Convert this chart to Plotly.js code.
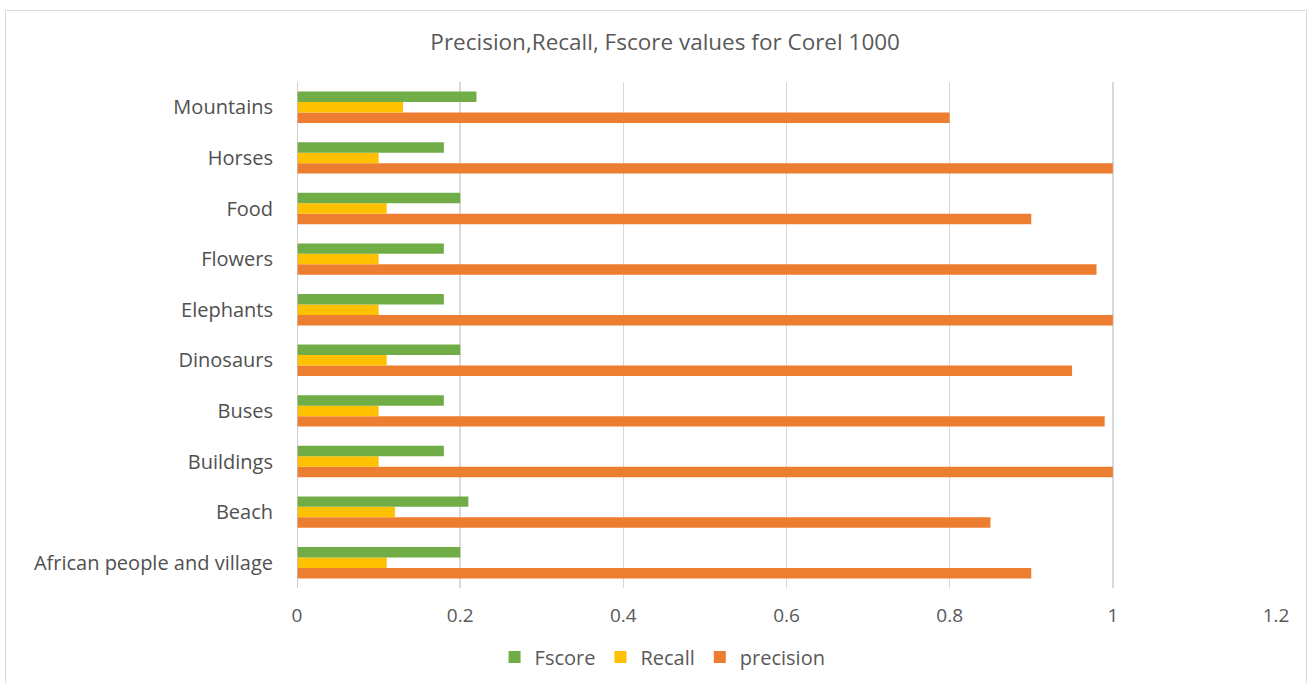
<!DOCTYPE html>
<html>
<head>
<meta charset="utf-8">
<script src="https://cdn.plot.ly/plotly-3.0.1.min.js"></script>
<style>
  html, body { margin: 0; padding: 0; background: #ffffff; }
  #chart { width: 1312px; height: 683px; }
  #frame { position: absolute; left: 5px; top: 10px; width: 1300px; height: 672px;
           border: 1px solid #d9d9d9; pointer-events: none; }
</style>
</head>
<body>
<div id="chart"></div>
<div id="frame"></div>
<script>
// Image classes (bottom to top on the category axis)
const categories = [
  'African people and village', 'Beach', 'Buildings', 'Buses', 'Dinosaurs',
  'Elephants', 'Flowers', 'Food', 'Horses', 'Mountains'
];
const precision = [0.90, 0.85, 1.00, 0.99, 0.95, 1.00, 0.98, 0.90, 1.00, 0.80];
const recall    = [0.11, 0.12, 0.10, 0.10, 0.11, 0.10, 0.10, 0.11, 0.10, 0.13];
const fscore    = [0.20, 0.21, 0.18, 0.18, 0.20, 0.18, 0.18, 0.20, 0.18, 0.22];
const xTicks = [0, 0.2, 0.4, 0.6, 0.8, 1, 1.2];

const font = '"Open Sans", sans-serif';

function series(name, values, color) {
  return {
    type: 'bar', orientation: 'h', name: name,
    x: values, y: categories,
    marker: { color: color, line: { width: 0 } },
    hoverinfo: 'x+name'
  };
}

const data = [
  series('precision', precision, '#ED7D31'),
  series('Recall', recall, '#FFC000'),
  series('Fscore', fscore, '#70AD47')
];

const layout = {
  width: 1312, height: 683,
  paper_bgcolor: 'rgba(0,0,0,0)', plot_bgcolor: '#ffffff',
  margin: { l: 297, r: 36, t: 82, b: 95 },
  barmode: 'group', bargap: 0.38, bargroupgap: 0,
  font: { family: font, color: '#595959', size: 20 },
  title: {
    text: 'Precision,Recall, Fscore values for Corel 1000',
    font: { family: font, size: 22.5, color: '#595959' },
    xref: 'container', x: 0.507, xanchor: 'center',
    yref: 'container', y: 0.938, yanchor: 'middle'
  },
  xaxis: {
    range: [0, 1.2], tickvals: xTicks, ticktext: xTicks.map(String),
    showgrid: true, gridcolor: '#d9d9d9', gridwidth: 1.5,
    zeroline: false, showline: false, ticks: '',
    tickfont: { size: 19, color: '#595959' }, ticklabelstandoff: 14
  },
  yaxis: {
    type: 'category', categoryorder: 'array', categoryarray: categories,
    showgrid: false, zeroline: false, ticks: '',
    showline: false,
    tickfont: { size: 20, color: '#505050' }, ticklabelstandoff: 23
  },
  shapes: [{
    type: 'line', xref: 'x', yref: 'paper', x0: 0, x1: 0, y0: 0, y1: 1,
    line: { color: '#bfbfbf', width: 1.5 }
  }],
  legend: {
    orientation: 'h', traceorder: 'reversed',
    xref: 'container', yref: 'container',
    x: 0.505, xanchor: 'center', y: 0.038, yanchor: 'middle',
    font: { size: 20, color: '#595959' },
    itemwidth: 30
  },
  showlegend: true
};

Plotly.newPlot('chart', data, layout, { displayModeBar: false, staticPlot: true });
</script>
</body>
</html>
